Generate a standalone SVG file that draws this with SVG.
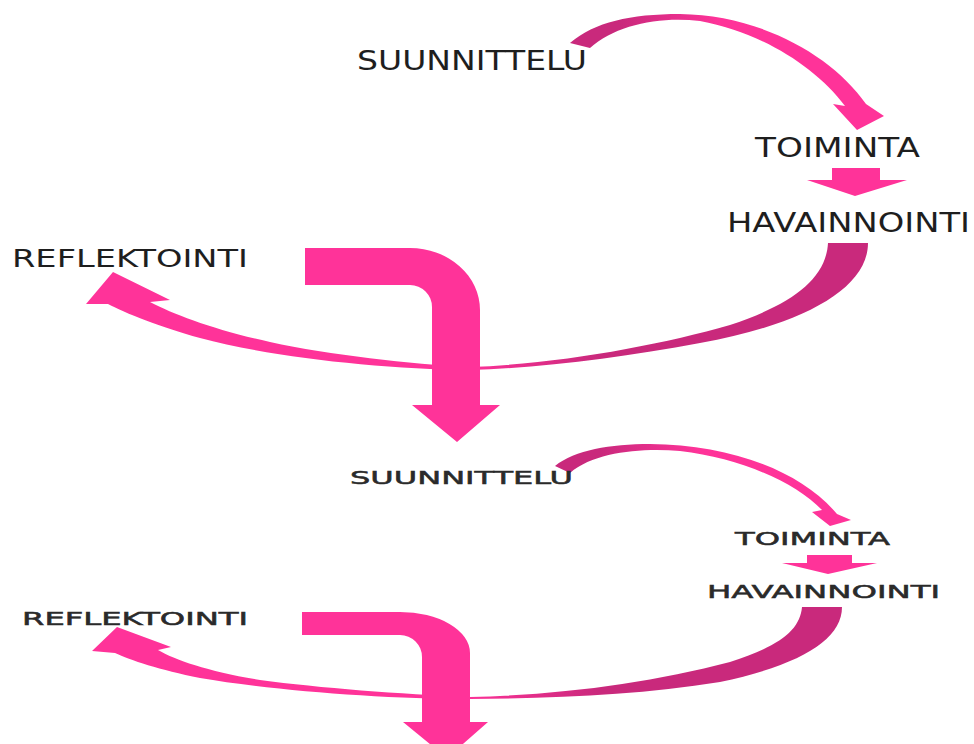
<svg xmlns="http://www.w3.org/2000/svg" width="974" height="744" viewBox="0 0 974 744">
  <style>
    .lbl { font-family: "DejaVu Sans", Verdana, sans-serif; fill: #1e1e1e; }
    .big { font-size: 27px; }
    .med { font-size: 24px; }
    .sml { font-size: 18px; fill: #2a2a2a; stroke: #2a2a2a; stroke-width: 0.5px; }
    .pink { fill: #FF3399; }
  </style>
  <defs>
    <linearGradient id="gTop1" gradientUnits="userSpaceOnUse" x1="620" y1="0" x2="720" y2="0">
      <stop offset="0" stop-color="#C9297C"/>
      <stop offset="1" stop-color="#FF3399"/>
    </linearGradient>
    <linearGradient id="gTop2" gradientUnits="userSpaceOnUse" x1="600" y1="0" x2="700" y2="0">
      <stop offset="0" stop-color="#C9297C"/>
      <stop offset="1" stop-color="#FF3399"/>
    </linearGradient>
    <linearGradient id="gBot" gradientUnits="userSpaceOnUse" x1="600" y1="0" x2="460" y2="0">
      <stop offset="0" stop-color="#C9297C"/>
      <stop offset="1" stop-color="#FF3399"/>
    </linearGradient>
  </defs>

  <rect width="974" height="744" fill="#ffffff"/>

  <g id="connectors">
    <!-- Cycle 1 -->
    <path id="c1-suun-toim" fill="url(#gTop1)" d="M570,43 C595,22 630,14 680,14 C760,15 832,55 866,104 L884,116 L857,130 L833,104 L845,106 C815,66 760,32 700,21 C660,16 615,25 590,48 Z"/>
    <path id="c1-toim-hav" class="pink" d="M832,168 L880,168 L880,180 L907,180 L855,196 L807,180 L832,180 Z"/>
    <path id="c1-hav-refl" fill="url(#gBot)" d="M828,243 L868,243 C868,290 800,325 700,343 C620,358 540,368 470,370 C380,369 270,357 200,338 C160,327 125,313 108,304 L86,304 L113,272 L170,300 L150,302 C175,315 215,330 270,342 C330,355 410,364 470,367 C560,364 660,345 730,325 C790,305 826,280 828,243 Z"/>
    <path id="c1-next" class="pink" d="M305,248 L410,248 A70,62 0 0 1 480,310 L480,405 L500,405 L457,442 L412,405 L432,405 L432,307 A22,22 0 0 0 410,285 L305,285 Z"/>

    <!-- Cycle 2 -->
    <path id="c2-suun-toim" fill="url(#gTop2)" d="M555,466 C575,450 610,444 650,444 C730,445 800,470 837,514 L851,520 L830,526 L812,512 L822,510 C795,482 740,458 680,451 C640,448 595,452 570,473 Z"/>
    <path id="c2-toim-hav" class="pink" d="M807,555 L852,555 L852,563 L877,563 L828,574 L782,563 L807,563 Z"/>
    <path id="c2-hav-refl" fill="url(#gBot)" d="M802,607 L842,607 C842,640 800,665 720,682 C640,695 560,698 470,699 C380,699 270,690 200,678 C160,670 130,660 115,653 L92,651 L117,627 L171,647 L158,650 C175,660 210,672 260,680 C320,688 400,694 470,697 C560,695 650,683 730,662 C780,646 800,630 802,607 Z"/>
    <path id="c2-next" class="pink" d="M302,612 L400,612 A70,41 0 0 1 470,653 L470,722 L488,722 L447,758 L403,722 L422,722 L422,657 A22,22 0 0 0 400,635 L302,635 Z"/>
  </g>

  <g id="n1-suunnittelu"><text class="lbl big" x="357" y="70" textLength="230" lengthAdjust="spacingAndGlyphs">SUUNNITTELU</text></g>
  <g id="n1-toiminta"><text class="lbl big" x="755" y="157" textLength="165" lengthAdjust="spacingAndGlyphs">TOIMINTA</text></g>
  <g id="n1-havainnointi"><text class="lbl big" x="727" y="232" textLength="243" lengthAdjust="spacingAndGlyphs">HAVAINNOINTI</text></g>
  <g id="n1-reflektointi"><text class="lbl med" x="12" y="267" textLength="236" lengthAdjust="spacingAndGlyphs">REFLEKTOINTI</text></g>

  <g id="n2-suunnittelu"><text class="lbl sml" x="350" y="484" textLength="223" lengthAdjust="spacingAndGlyphs">SUUNNITTELU</text></g>
  <g id="n2-toiminta"><text class="lbl sml" x="735" y="545" textLength="155" lengthAdjust="spacingAndGlyphs">TOIMINTA</text></g>
  <g id="n2-havainnointi"><text class="lbl sml" x="707" y="598" textLength="233" lengthAdjust="spacingAndGlyphs">HAVAINNOINTI</text></g>
  <g id="n2-reflektointi"><text class="lbl sml" x="22" y="625" textLength="226" lengthAdjust="spacingAndGlyphs">REFLEKTOINTI</text></g>
</svg>
